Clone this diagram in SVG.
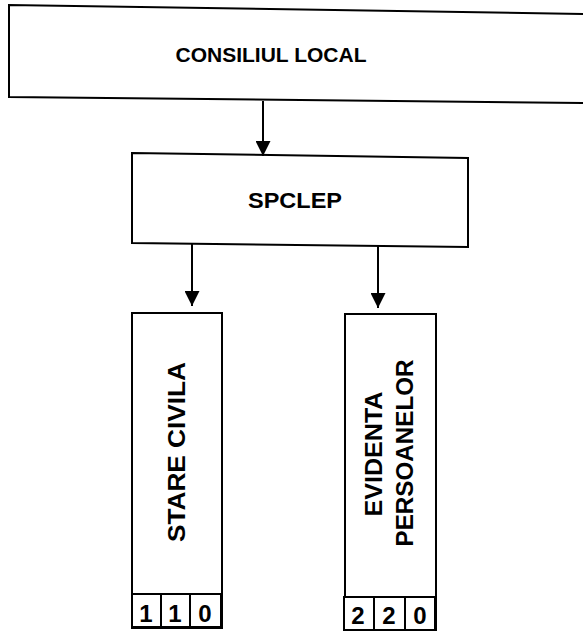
<svg xmlns="http://www.w3.org/2000/svg" width="583" height="631" viewBox="0 0 583 631">
  <style>
    .box { fill: #ffffff; stroke: #000000; stroke-width: 2; }
    .lbl { font-family: "Liberation Sans", Arial, sans-serif; font-weight: bold; fill: #000000; text-anchor: middle; }
    .num { font-size: 24px; }
    .conn { stroke: #000000; stroke-width: 2; fill: none; }
  </style>
  <defs>
    <marker id="arrow" viewBox="0 0 15 15" refX="15" refY="7.5" markerWidth="15" markerHeight="15" markerUnits="userSpaceOnUse" orient="auto">
      <path d="M0,0 L15,7.5 L0,15 Z" fill="#000000"/>
    </marker>
  </defs>
  <rect width="583" height="631" fill="#ffffff"/>

  <g id="consiliul-local">
    <path class="box" d="M585,14 L9,5 L9,97 L585,103"/>
    <text class="lbl" x="271" y="62" font-size="21">CONSILIUL LOCAL</text>
  </g>

  <g id="spclep">
    <polygon class="box" points="132,153 468,158 468,247 132,243"/>
    <text class="lbl" x="295" y="208" font-size="22" textLength="94" lengthAdjust="spacingAndGlyphs">SPCLEP</text>
  </g>

  <g id="stare-civila">
    <rect class="box" x="132" y="313" width="90" height="315"/>
    <text class="lbl" font-size="24" transform="translate(185,452) rotate(-90)" textLength="180" lengthAdjust="spacingAndGlyphs">STARE CIVILA</text>
    <rect class="box" x="132" y="594" width="29" height="33"/>
    <rect class="box" x="161" y="594" width="29" height="33"/>
    <rect class="box" x="190" y="594" width="31" height="33"/>
    <text class="lbl num" x="146" y="622">1</text>
    <text class="lbl num" x="175" y="622">1</text>
    <text class="lbl num" x="205" y="622">0</text>
  </g>

  <g id="evidenta-persoanelor">
    <rect class="box" x="345" y="314" width="91" height="316"/>
    <text class="lbl" font-size="24" transform="translate(382,454) rotate(-90)" textLength="125" lengthAdjust="spacingAndGlyphs">EVIDENTA</text>
    <text class="lbl" font-size="24" transform="translate(413,453) rotate(-90)" textLength="187" lengthAdjust="spacingAndGlyphs">PERSOANELOR</text>
    <rect class="box" x="344" y="597" width="30" height="33"/>
    <rect class="box" x="374" y="597" width="31" height="33"/>
    <rect class="box" x="405" y="597" width="30" height="33"/>
    <text class="lbl num" x="358" y="624">2</text>
    <text class="lbl num" x="389" y="624">2</text>
    <text class="lbl num" x="420" y="624">0</text>
  </g>

  <g id="connectors">
    <line class="conn" x1="263" y1="101" x2="263" y2="156" marker-end="url(#arrow)"/>
    <line class="conn" x1="192" y1="244" x2="192" y2="306" marker-end="url(#arrow)"/>
    <line class="conn" x1="378" y1="246" x2="378" y2="308" marker-end="url(#arrow)"/>
  </g>
</svg>
